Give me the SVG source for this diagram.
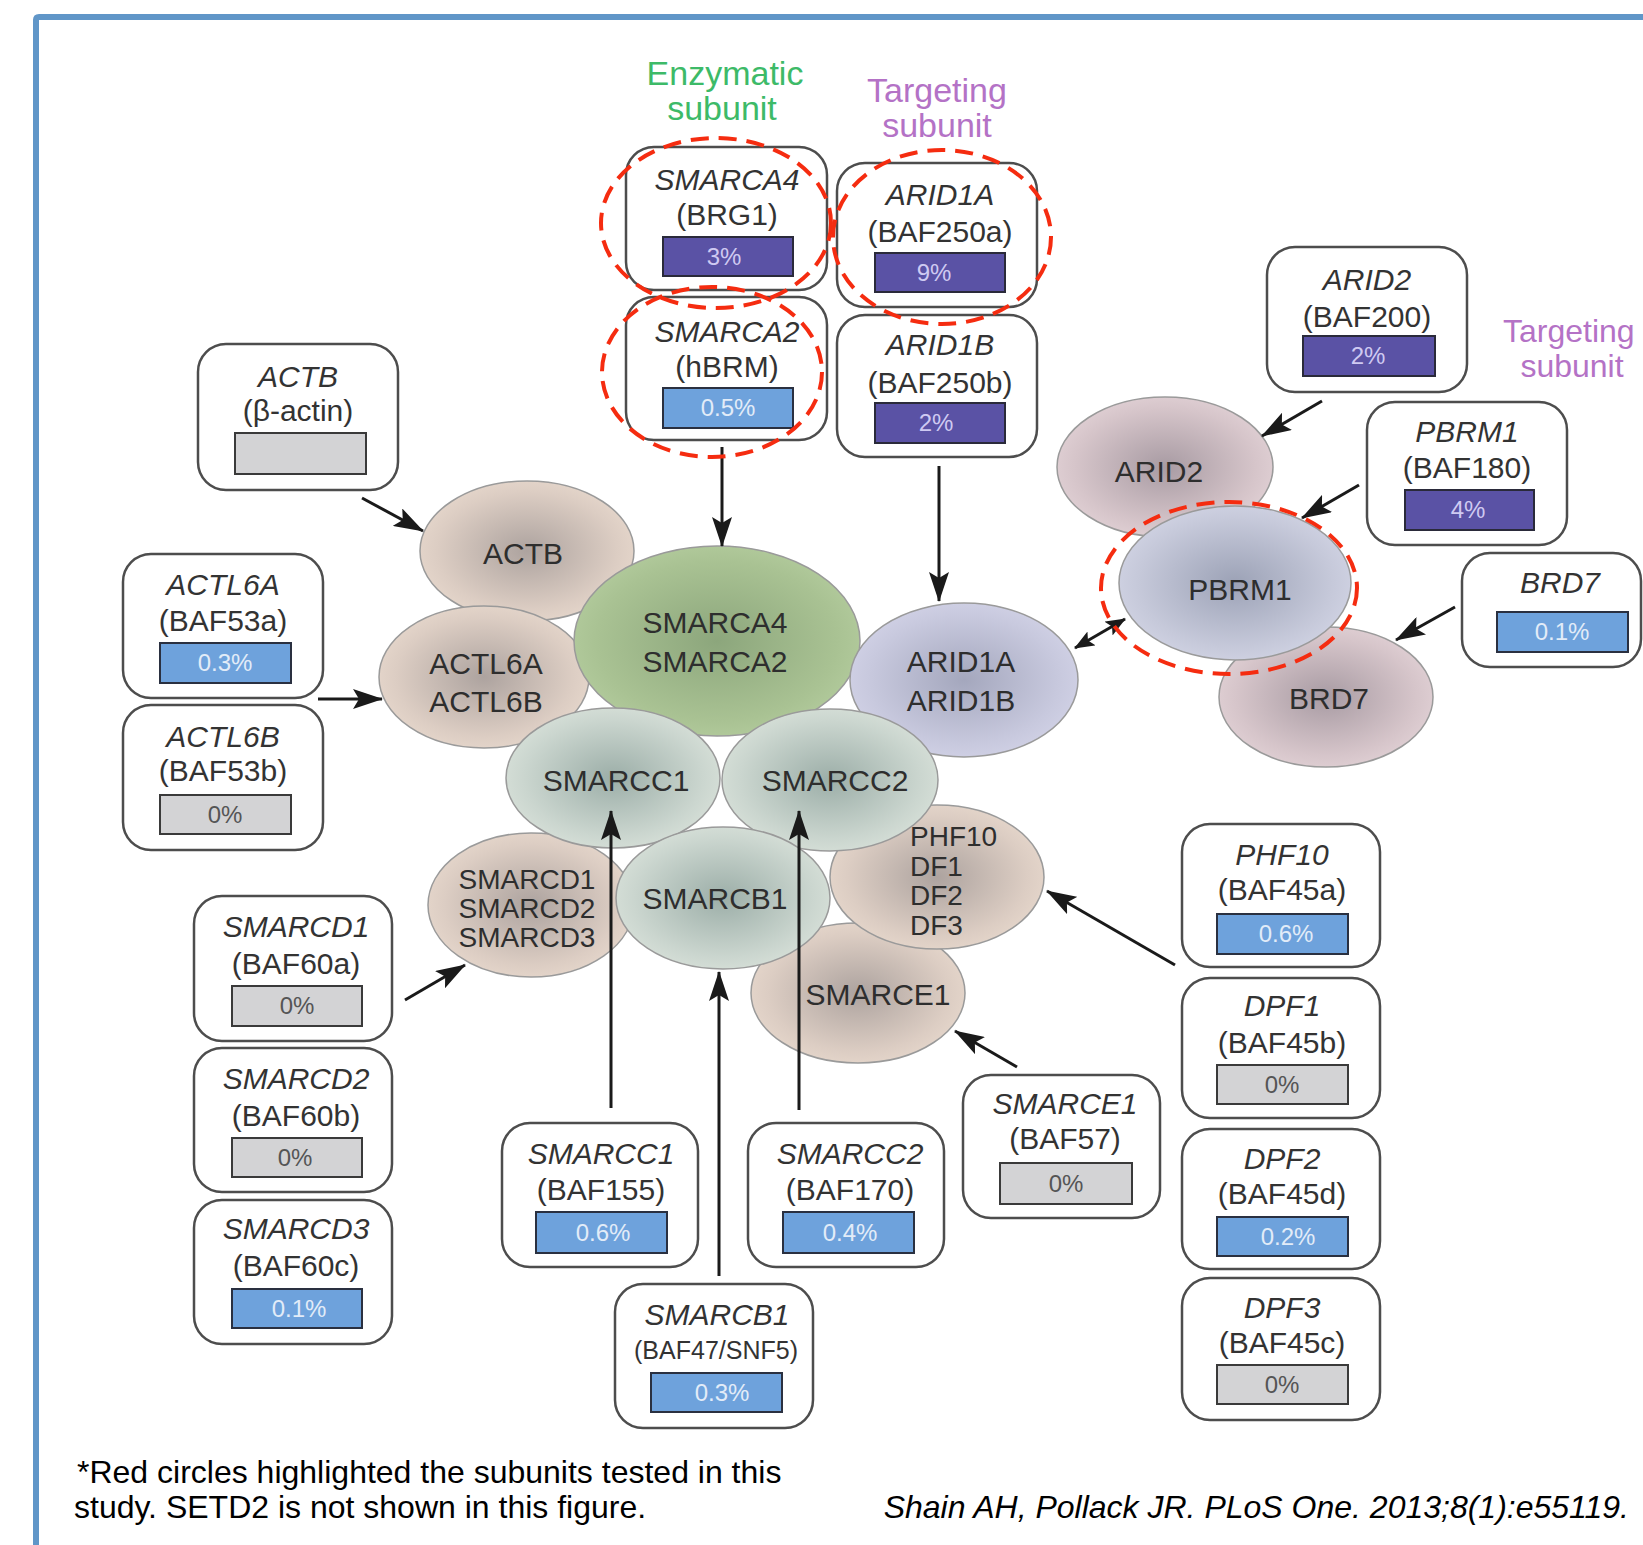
<svg xmlns="http://www.w3.org/2000/svg" width="1643" height="1545" viewBox="0 0 1643 1545">
<style>
text{font-family:"Liberation Sans",Arial,Helvetica,sans-serif}
.box{fill:#fff;stroke:#4d4d4d;stroke-width:2.5}
.t{font-size:30px;fill:#333;text-anchor:middle}
.ti{font-style:italic}
.sm{font-size:25px}
.bd{fill:#5a52a5;stroke:#2a2a3a;stroke-width:2}
.bl{fill:#6ea2dc;stroke:#2a3040;stroke-width:2}
.bg{fill:#d3d3d5;stroke:#3a3a3a;stroke-width:2}
.bt{font-size:24px;text-anchor:middle}
.btd{fill:#cfcaf2}
.btl{fill:#e2ecf8}
.btg{fill:#555}
.ell{stroke:#9a9a9a;stroke-width:1.5}
.et{font-size:30px;fill:#2e2e2e;text-anchor:middle}
.es{font-size:28px;fill:#2e2e2e}
.conn{stroke:#1a1a1a;stroke-width:3;fill:none;marker-end:url(#ah)}
.hl{fill:none;stroke:#f52c10;stroke-width:4;stroke-dasharray:18 10}
.foot{font-size:32px;fill:#000}
.hd{font-size:34px}
.hd2{font-size:32px}
</style>
<defs>
<marker id="ah" markerUnits="userSpaceOnUse" markerWidth="30" markerHeight="20" refX="29" refY="10" orient="auto-start-reverse" viewBox="0 0 30 20">
<path d="M0,0 L30,10 L0,20 L6,10 z" fill="#1a1a1a"/>
</marker>
<marker id="ahs" markerUnits="userSpaceOnUse" markerWidth="20" markerHeight="16" refX="19" refY="8" orient="auto-start-reverse" viewBox="0 0 20 16">
<path d="M0,0 L20,8 L0,16 L4,8 z" fill="#1a1a1a"/>
</marker>
<radialGradient id="gTan" cx="0.5" cy="0.5" r="0.6"><stop offset="0" stop-color="#ada39f"/><stop offset="0.7" stop-color="#dccdc3"/><stop offset="1" stop-color="#ebdcd0"/></radialGradient>
<radialGradient id="gGreen" cx="0.5" cy="0.5" r="0.6"><stop offset="0" stop-color="#8ca67c"/><stop offset="0.7" stop-color="#a9c293"/><stop offset="1" stop-color="#b8d0a2"/></radialGradient>
<radialGradient id="gLav" cx="0.5" cy="0.5" r="0.6"><stop offset="0" stop-color="#a4a7bd"/><stop offset="0.7" stop-color="#c8c9de"/><stop offset="1" stop-color="#d6d6ea"/></radialGradient>
<radialGradient id="gSage" cx="0.5" cy="0.5" r="0.6"><stop offset="0" stop-color="#9caea8"/><stop offset="0.7" stop-color="#cbd6cf"/><stop offset="1" stop-color="#dde5dd"/></radialGradient>
<radialGradient id="gMauve" cx="0.5" cy="0.5" r="0.6"><stop offset="0" stop-color="#a89ba3"/><stop offset="0.7" stop-color="#d6c5ca"/><stop offset="1" stop-color="#e6d6da"/></radialGradient>
<radialGradient id="gBlue" cx="0.5" cy="0.5" r="0.6"><stop offset="0" stop-color="#9ca2b6"/><stop offset="0.7" stop-color="#c6c9da"/><stop offset="1" stop-color="#d6d8e8"/></radialGradient>
</defs>
<rect width="1643" height="1545" fill="#fff"/>
<path d="M36,1545 V20 Q36,17 39,17 H1643" fill="none" stroke="#6096c8" stroke-width="6"/>

<text class="hd" x="725" y="85" fill="#3dba68" text-anchor="middle">Enzymatic</text>
<text class="hd" x="722" y="120" fill="#3dba68" text-anchor="middle">subunit</text>
<text class="hd" x="937" y="102" fill="#b472c6" text-anchor="middle">Targeting</text>
<text class="hd" x="937" y="137" fill="#b472c6" text-anchor="middle">subunit</text>
<text class="hd2" x="1503" y="342" fill="#b472c6">Targeting</text>
<text class="hd2" x="1572" y="377" fill="#b472c6" text-anchor="middle">subunit</text>

<g id="ellipses">
<g id="e-ACTB"><ellipse class="ell" cx="527" cy="551" rx="107" ry="70" fill="url(#gTan)"/><text class="et" x="523" y="564">ACTB</text></g>
<g id="e-ACTL6"><ellipse class="ell" cx="484" cy="677" rx="105" ry="71" fill="url(#gTan)"/><text class="et" x="486" y="674">ACTL6A</text><text class="et" x="486" y="712">ACTL6B</text></g>
<g id="e-SMARCD"><ellipse class="ell" cx="531" cy="905" rx="103" ry="72" fill="url(#gTan)"/><text class="es" x="527" y="889" text-anchor="middle">SMARCD1</text><text class="es" x="527" y="918" text-anchor="middle">SMARCD2</text><text class="es" x="527" y="947" text-anchor="middle">SMARCD3</text></g>
<g id="e-SMARCE1"><ellipse class="ell" cx="858" cy="993" rx="107" ry="70" fill="url(#gTan)"/><text class="et" x="878" y="1005">SMARCE1</text></g>
<g id="e-PHF10"><ellipse class="ell" cx="937" cy="877" rx="107" ry="72" fill="url(#gTan)"/><text class="es" x="910" y="846">PHF10</text><text class="es" x="910" y="876">DF1</text><text class="es" x="910" y="905">DF2</text><text class="es" x="910" y="935">DF3</text></g>
<g id="e-SMARCA"><ellipse class="ell" cx="717" cy="641" rx="143" ry="95" fill="url(#gGreen)"/><text class="et" x="715" y="633">SMARCA4</text><text class="et" x="715" y="672">SMARCA2</text></g>
<g id="e-ARID1"><ellipse class="ell" cx="964" cy="680" rx="114" ry="77" fill="url(#gLav)"/><text class="et" x="961" y="672">ARID1A</text><text class="et" x="961" y="711">ARID1B</text></g>
<g id="e-SMARCC1"><ellipse class="ell" cx="613" cy="778" rx="107" ry="70" fill="url(#gSage)"/><text class="et" x="616" y="791">SMARCC1</text></g>
<g id="e-SMARCC2"><ellipse class="ell" cx="830" cy="780" rx="108" ry="71" fill="url(#gSage)"/><text class="et" x="835" y="791">SMARCC2</text></g>
<g id="e-SMARCB1"><ellipse class="ell" cx="723" cy="898" rx="107" ry="71" fill="url(#gSage)"/><text class="et" x="715" y="909">SMARCB1</text></g>
<g id="e-ARID2"><ellipse class="ell" cx="1165" cy="467" rx="108" ry="70" fill="url(#gMauve)"/><text class="et" x="1159" y="482">ARID2</text></g>
<g id="e-BRD7"><ellipse class="ell" cx="1326" cy="697" rx="107" ry="70" fill="url(#gMauve)"/><text class="et" x="1329" y="709">BRD7</text></g>
<g id="e-PBRM1"><ellipse class="ell" cx="1235" cy="583" rx="116" ry="77" fill="url(#gBlue)"/><text class="et" x="1240" y="600">PBRM1</text></g>
</g>

<g id="boxes">
<g id="b-ACTB"><rect class="box" x="198" y="344" width="200" height="146" rx="28"/><text class="t ti" x="298" y="387">ACTB</text><text class="t" x="298" y="421">(β-actin)</text><rect class="bg" x="235" y="433" width="131" height="41"/></g>
<g id="b-ACTL6A"><rect class="box" x="123" y="554" width="200" height="144" rx="28"/><text class="t ti" x="223" y="595">ACTL6A</text><text class="t" x="223" y="631">(BAF53a)</text><rect class="bl" x="160" y="643" width="131" height="40"/><text class="bt btl" x="225" y="671">0.3%</text></g>
<g id="b-ACTL6B"><rect class="box" x="123" y="705" width="200" height="145" rx="28"/><text class="t ti" x="223" y="747">ACTL6B</text><text class="t" x="223" y="781">(BAF53b)</text><rect class="bg" x="160" y="795" width="131" height="39"/><text class="bt btg" x="225" y="823">0%</text></g>
<g id="b-SMARCA4"><rect class="box" x="626" y="147" width="201" height="143" rx="28"/><text class="t ti" x="727" y="190">SMARCA4</text><text class="t" x="727" y="225">(BRG1)</text><rect class="bd" x="663" y="237" width="130" height="39"/><text class="bt btd" x="724" y="265">3%</text></g>
<g id="b-SMARCA2"><rect class="box" x="626" y="297" width="201" height="143" rx="28"/><text class="t ti" x="727" y="342">SMARCA2</text><text class="t" x="727" y="377">(hBRM)</text><rect class="bl" x="663" y="388" width="130" height="40"/><text class="bt btl" x="728" y="416">0.5%</text></g>
<g id="b-ARID1A"><rect class="box" x="837" y="163" width="200" height="144" rx="28"/><text class="t ti" x="940" y="205">ARID1A</text><text class="t" x="940" y="242">(BAF250a)</text><rect class="bd" x="875" y="253" width="130" height="39"/><text class="bt btd" x="934" y="281">9%</text></g>
<g id="b-ARID1B"><rect class="box" x="837" y="315" width="200" height="142" rx="28"/><text class="t ti" x="940" y="355">ARID1B</text><text class="t" x="940" y="393">(BAF250b)</text><rect class="bd" x="875" y="403" width="130" height="40"/><text class="bt btd" x="936" y="431">2%</text></g>
<g id="b-ARID2"><rect class="box" x="1267" y="247" width="200" height="145" rx="28"/><text class="t ti" x="1367" y="290">ARID2</text><text class="t" x="1367" y="327">(BAF200)</text><rect class="bd" x="1303" y="336" width="132" height="40"/><text class="bt btd" x="1368" y="364">2%</text></g>
<g id="b-PBRM1"><rect class="box" x="1367" y="402" width="200" height="143" rx="28"/><text class="t ti" x="1467" y="442">PBRM1</text><text class="t" x="1467" y="478">(BAF180)</text><rect class="bd" x="1405" y="490" width="129" height="40"/><text class="bt btd" x="1468" y="518">4%</text></g>
<g id="b-BRD7"><rect class="box" x="1462" y="553" width="179" height="114" rx="28"/><text class="t ti" x="1560" y="593">BRD7</text><rect class="bl" x="1497" y="612" width="131" height="40"/><text class="bt btl" x="1562" y="640">0.1%</text></g>
<g id="b-SMARCD1"><rect class="box" x="194" y="896" width="198" height="145" rx="28"/><text class="t ti" x="296" y="937">SMARCD1</text><text class="t" x="296" y="974">(BAF60a)</text><rect class="bg" x="232" y="986" width="130" height="40"/><text class="bt btg" x="297" y="1014">0%</text></g>
<g id="b-SMARCD2"><rect class="box" x="194" y="1048" width="198" height="144" rx="28"/><text class="t ti" x="296" y="1089">SMARCD2</text><text class="t" x="296" y="1126">(BAF60b)</text><rect class="bg" x="232" y="1138" width="130" height="39"/><text class="bt btg" x="295" y="1166">0%</text></g>
<g id="b-SMARCD3"><rect class="box" x="194" y="1200" width="198" height="144" rx="28"/><text class="t ti" x="296" y="1239">SMARCD3</text><text class="t" x="296" y="1276">(BAF60c)</text><rect class="bl" x="232" y="1289" width="130" height="39"/><text class="bt btl" x="299" y="1317">0.1%</text></g>
<g id="b-SMARCC1"><rect class="box" x="502" y="1123" width="196" height="144" rx="28"/><text class="t ti" x="601" y="1164">SMARCC1</text><text class="t" x="601" y="1200">(BAF155)</text><rect class="bl" x="536" y="1212" width="131" height="41"/><text class="bt btl" x="603" y="1241">0.6%</text></g>
<g id="b-SMARCC2"><rect class="box" x="748" y="1123" width="196" height="144" rx="28"/><text class="t ti" x="850" y="1164">SMARCC2</text><text class="t" x="850" y="1200">(BAF170)</text><rect class="bl" x="783" y="1212" width="131" height="41"/><text class="bt btl" x="850" y="1241">0.4%</text></g>
<g id="b-SMARCB1"><rect class="box" x="615" y="1284" width="198" height="144" rx="28"/><text class="t ti" x="717" y="1325">SMARCB1</text><text class="t sm" x="716" y="1359">(BAF47/SNF5)</text><rect class="bl" x="651" y="1373" width="131" height="39"/><text class="bt btl" x="722" y="1401">0.3%</text></g>
<g id="b-SMARCE1"><rect class="box" x="963" y="1075" width="197" height="143" rx="28"/><text class="t ti" x="1065" y="1114">SMARCE1</text><text class="t" x="1065" y="1149">(BAF57)</text><rect class="bg" x="1000" y="1163" width="132" height="41"/><text class="bt btg" x="1066" y="1192">0%</text></g>
<g id="b-PHF10"><rect class="box" x="1182" y="824" width="198" height="143" rx="28"/><text class="t ti" x="1282" y="865">PHF10</text><text class="t" x="1282" y="900">(BAF45a)</text><rect class="bl" x="1217" y="914" width="131" height="40"/><text class="bt btl" x="1286" y="942">0.6%</text></g>
<g id="b-DPF1"><rect class="box" x="1182" y="978" width="198" height="140" rx="28"/><text class="t ti" x="1282" y="1016">DPF1</text><text class="t" x="1282" y="1053">(BAF45b)</text><rect class="bg" x="1217" y="1065" width="131" height="39"/><text class="bt btg" x="1282" y="1093">0%</text></g>
<g id="b-DPF2"><rect class="box" x="1182" y="1129" width="198" height="140" rx="28"/><text class="t ti" x="1282" y="1169">DPF2</text><text class="t" x="1282" y="1204">(BAF45d)</text><rect class="bl" x="1217" y="1217" width="131" height="39"/><text class="bt btl" x="1288" y="1245">0.2%</text></g>
<g id="b-DPF3"><rect class="box" x="1182" y="1278" width="198" height="142" rx="28"/><text class="t ti" x="1282" y="1318">DPF3</text><text class="t" x="1282" y="1353">(BAF45c)</text><rect class="bg" x="1217" y="1365" width="131" height="39"/><text class="bt btg" x="1282" y="1393">0%</text></g>
</g>

<g id="connectors">
<line class="conn" x1="362" y1="498" x2="423" y2="531"/>
<line class="conn" x1="318" y1="699" x2="382" y2="699"/>
<line class="conn" x1="722" y1="447" x2="722" y2="546"/>
<line class="conn" x1="939" y1="466" x2="939" y2="601"/>
<line class="conn" x1="1322" y1="401" x2="1262" y2="436"/>
<line class="conn" x1="1359" y1="485" x2="1302" y2="518"/>
<line class="conn" x1="1455" y1="607" x2="1396" y2="640"/>
<line x1="1125" y1="619" x2="1075" y2="648" stroke="#1a1a1a" stroke-width="3" marker-start="url(#ahs)" marker-end="url(#ahs)"/>
<line class="conn" x1="405" y1="1000" x2="465" y2="965"/>
<line class="conn" x1="611" y1="1108" x2="611" y2="811"/>
<line class="conn" x1="799" y1="1110" x2="799" y2="811"/>
<line class="conn" x1="719" y1="1276" x2="719" y2="972"/>
<line class="conn" x1="1175" y1="965" x2="1047" y2="891"/>
<line class="conn" x1="1017" y1="1067" x2="955" y2="1031"/>
</g>

<g id="highlights">
<ellipse class="hl" cx="716" cy="223" rx="115" ry="85"/>
<ellipse class="hl" cx="712" cy="372" rx="110" ry="85"/>
<ellipse class="hl" cx="942" cy="237" rx="109" ry="87"/>
<ellipse class="hl" cx="1229" cy="588" rx="128" ry="86"/>
</g>

<g id="footer">
<text class="foot" x="77" y="1483">*Red circles highlighted the subunits tested in this</text>
<text class="foot" x="74" y="1518">study. SETD2 is not shown in this figure.</text>
<text class="foot" x="1629" y="1518" font-style="italic" text-anchor="end">Shain AH, Pollack JR. PLoS One. 2013;8(1):e55119.</text>
</g>
</svg>
